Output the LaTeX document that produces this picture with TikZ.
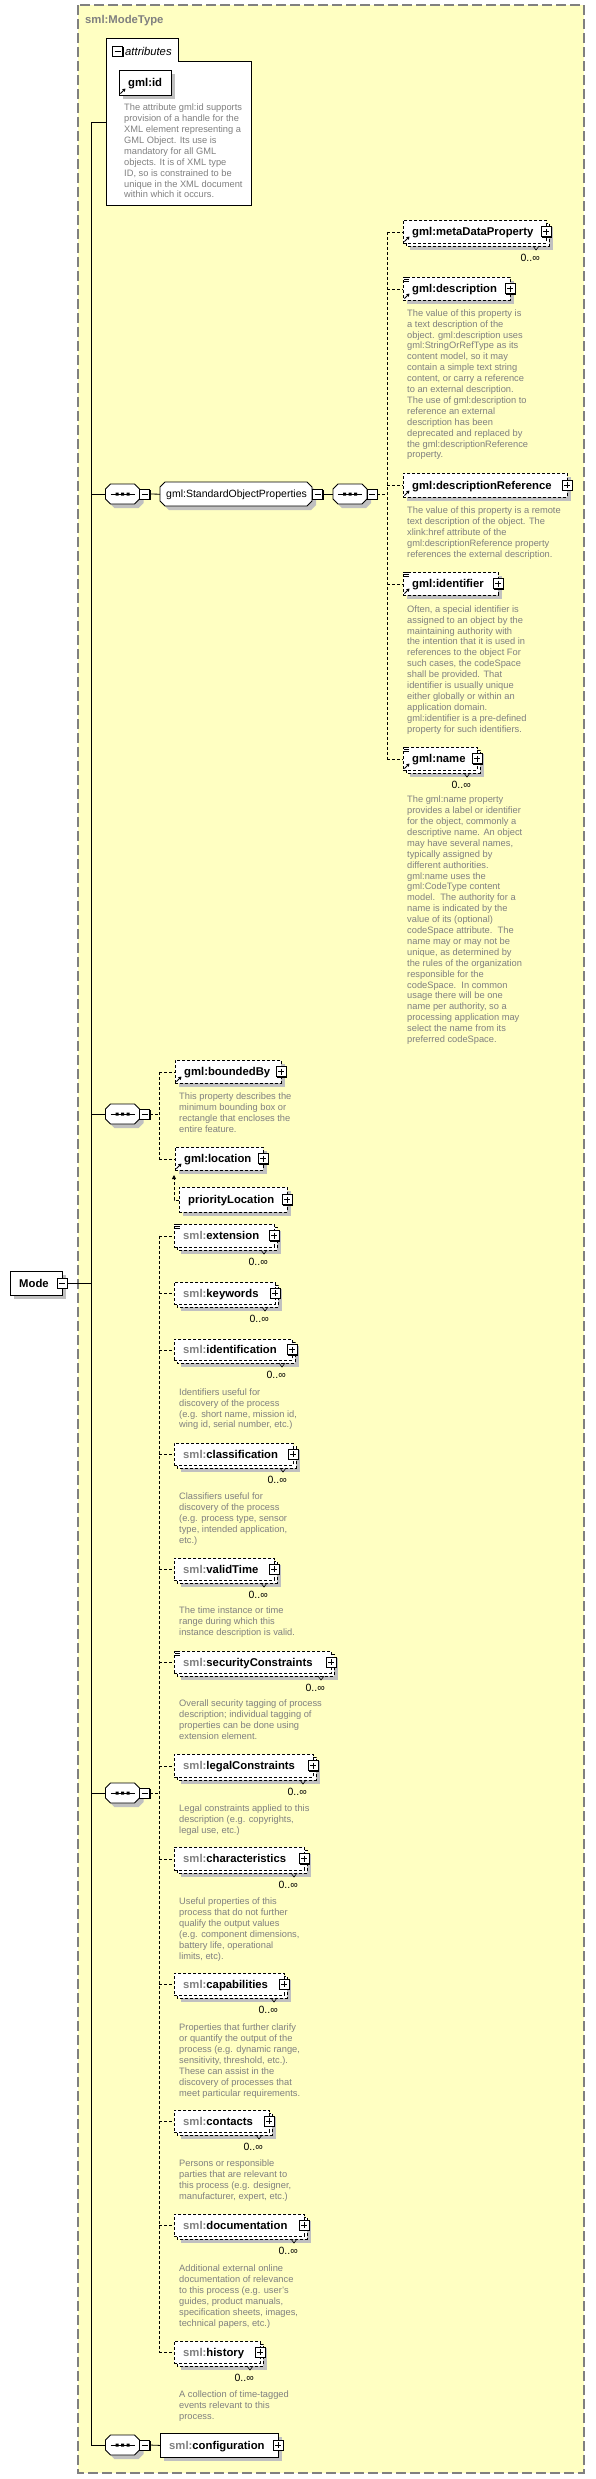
\documentclass[tikz,border=0pt]{standalone}
\usepackage{fontspec}
\setmainfont{Liberation Sans}
\usetikzlibrary{arrows.meta}
\definecolor{bgyellow}{RGB}{255,255,194}
\definecolor{txtgray}{RGB}{128,128,128}
\definecolor{shgray}{RGB}{192,192,192}
\definecolor{framegray}{RGB}{128,128,128}
\newcommand\labfont{\fontsize{11.3}{13}\selectfont\bfseries}
\newcommand\descfont{\fontsize{9.3}{10.9}\selectfont}
\newcommand\multfont{\fontsize{10.5}{12}\selectfont}
\newcommand\smlpre{{\color{txtgray}sml:}}
\tikzset{
  elbox/.style={draw=black, fill=white, line width=0.8pt, inner sep=0pt, rectangle},
  dsh/.style={dash pattern=on 3pt off 2pt},
  sld/.style={solid},
  ln/.style={draw=black, line width=0.8pt},
  dln/.style={draw=black, line width=0.8pt, dash pattern=on 3pt off 2pt},
  lbl/.style={font=\labfont, text=black, inner sep=0pt, anchor=base west},
  desc/.style={font=\descfont, text=txtgray, align=left, inner sep=0pt, anchor=north west},
  mult/.style={font=\multfont, text=black, inner sep=0pt, anchor=base east},
  pmbox/.style={draw=black, fill=white, line width=0.8pt, minimum size=10pt, inner sep=0pt, rectangle},
  hold/.style={draw=none, inner sep=0pt, rectangle},
}
\newcommand\iconplus[3]{%
  \fill[black] ({#2-4.4},{#3-4.4}) rectangle ({#2+6.4},{#3+6.4});
  \node[pmbox] (#1) at ({#2},{#3}) {};
  \draw[line width=0.9pt] ({#2-3},{#3}) -- ({#2+3},{#3}) ({#2},{#3-3}) -- ({#2},{#3+3});
}
\newcommand\iconminus[3]{%
  \fill[black] ({#2-4.4},{#3-4.4}) rectangle ({#2+6.4},{#3+6.4});
  \node[pmbox] (#1) at ({#2},{#3}) {};
  \draw[line width=0.9pt] ({#2-3},{#3}) -- ({#2+3},{#3});
}
\newcommand\iconnone[3]{}
\newcommand\elemS[8]{%
  \fill[shgray] ({#2+4},{#3+4}) rectangle ({#4+4},{#5+4});
  \node[elbox,#6,minimum width={#4-#2},minimum height={#5-#3},anchor=north west] (#1) at (#2,#3) {};
  \node[lbl] at ({#2+9},{(#3+#5)/2+4}) {#7};
  \csname icon#8\endcsname{#1-pm}{#4}{(#3+#5)/2}%
}
\newcommand\elemM[8]{%
  \fill[shgray] ({#2+7},{#3+7}) rectangle ({#4+4},{#5+4});
  \draw[elbox,#6] ({#2+3},{#3+3}) rectangle (#4,#5);
  \node[elbox,#6,minimum width={#4-#2-3},minimum height={#5-#3-3},anchor=north west] (#1) at (#2,#3) {};
  \node[lbl] at ({#2+9},{(#3+#5-3)/2+4}) {#7};
  \draw[line width=0.6pt] ({#4-16},{#5}) -- ({#4-13},{#5+4}) -- ({#4-10},{#5});
  \node[mult] at ({#4-9},{#5+15.5}) {0..∞};
  \csname icon#8\endcsname{#1-pm}{#4-3}{(#3+#5-3)/2}%
}
\newcommand\docicon[2]{\draw[line width=0.7pt] ({#1+0.5},{#2+0.5}) -- ({#1+6},{#2+0.5}) ({#1+0.5},{#2+2.5}) -- ({#1+6},{#2+2.5}) ({#1+0.5},{#2+4.5}) -- ({#1+6},{#2+4.5});}
\newcommand\refarrow[2]{\draw[line width=0.9pt,-{Triangle[length=3pt,width=3.5pt]}] ({#1+1.5},{#2-1.5}) -- ({#1+6.5},{#2-6.5});}
\newcommand\octa[5]{({#1+#5},{#2}) -- ({#3-#5},{#2}) -- ({#3},{#2+#5}) -- ({#3},{#4-#5}) -- ({#3-#5},{#4}) -- ({#1+#5},{#4}) -- ({#1},{#4-#5}) -- ({#1},{#2+#5}) -- cycle}
\newcommand\seqnode[3]{%
  \fill[shgray] \octa{#2+4}{#3-6}{#2+38}{#3+14}{5};
  \filldraw[fill=white,draw=black,line width=0.8pt] \octa{#2}{#3-10}{#2+34}{#3+10}{5};
  \draw[line width=0.9pt] ({#2+5},{#3}) -- ({#2+29},{#3});
  \fill ({#2+10},{#3-1.5}) rectangle ({#2+13},{#3+1.5}) ({#2+15.5},{#3-1.5}) rectangle ({#2+18.5},{#3+1.5}) ({#2+21},{#3-1.5}) rectangle ({#2+24},{#3+1.5});
  \node[hold,minimum width=34pt,minimum height=20pt,anchor=west] (#1) at (#2,#3) {};
  \iconminus{#1-mb}{#2+39}{#3}%
}
\newcommand\desctext[3]{\node[desc] at ({#1},{#2-7.6}) {\strut #3};}
\begin{document}
\begin{tikzpicture}[x=1pt,y=-1pt]
\useasboundingbox (0,0) rectangle (595,2479);
\fill[white] (0,0) rectangle (595,2479);
% frame
\draw[framegray, line width=1.2pt, dash pattern=on 10pt off 4pt, fill=bgyellow] (78,5) rectangle (584,2473);
\node[font=\labfont, text=txtgray, inner sep=0pt, anchor=base west] (title) at (85,23) {sml:ModeType};
% attributes
\filldraw[fill=white, draw=black, line width=0.8pt] (106,205) -- (106,38) -- (178,38) -- (178,61) -- (251,61) -- (251,205) -- cycle;
\node[hold, minimum width=145pt, minimum height=144pt, anchor=north west] (attrs) at (106,61) {};
\iconminus{attr-mb}{117.5}{51}
\node[font=\fontsize{11.3}{13}\selectfont\itshape, inner sep=0pt, anchor=base west] at (125,55) {attributes};
\elemS{gmlid}{119}{70}{171}{95}{sld}{gml:id}{none}
\refarrow{119}{95}
\desctext{124}{110.5}{The attribute gml:id supports\\provision of a handle for the\\XML element representing a\\GML Object. Its use is\\mandatory for all GML\\objects. It is of XML type\\ID, so is constrained to be\\unique in the XML document\\within which it occurs.}
% Mode
\elemS{mode}{10}{1271}{62}{1295}{sld}{Mode}{minus}
% sequence 1 and group
\seqnode{seqA}{105.5}{494}
\fill[shgray] \octa{164}{486}{316}{510}{5};
\filldraw[fill=white,draw=black,line width=0.8pt] \octa{160}{482}{312}{506}{5};
\node[hold, minimum width=152pt, minimum height=24pt, anchor=north west] (grp) at (160,482) {};
\node[font=\fontsize{10.5}{12}\selectfont, inner sep=0pt, anchor=base west] at (166,497.7) {gml:StandardObjectProperties};
\iconminus{grp-mb}{317.5}{494}
\seqnode{seqB}{333}{494}
% right column
\elemM{meta}{403}{220}{549}{246}{dsh}{gml:metaDataProperty}{plus}
\refarrow{403}{243}
\elemS{descr}{403}{277}{510}{300}{dsh}{gml:description}{plus}
\docicon{403}{277}\refarrow{403}{300}
\desctext{407}{316}{The value of this property is\\a text description of the\\object. gml:description uses\\gml:StringOrRefType as its\\content model, so it may\\contain a simple text string\\content, or carry a reference\\to an external description.\\The use of gml:description to\\reference an external\\description has been\\deprecated and replaced by\\the gml:descriptionReference\\property.}
\elemS{descref}{403}{473}{567}{497}{dsh}{gml:descriptionReference}{plus}
\refarrow{403}{497}
\desctext{407}{513.5}{The value of this property is a remote\\text description of the object. The\\xlink:href attribute of the\\gml:descriptionReference property\\references the external description.}
\elemS{ident}{403}{572}{498}{595}{dsh}{gml:identifier}{plus}
\docicon{403}{572}\refarrow{403}{595}
\desctext{407}{612}{Often, a special identifier is\\assigned to an object by the\\maintaining authority with\\the intention that it is used in\\references to the object For\\such cases, the codeSpace\\shall be provided. That\\identifier is usually unique\\either globally or within an\\application domain.\\gml:identifier is a pre-defined\\property for such identifiers.}
\elemM{gname}{403}{747}{480}{773}{dsh}{gml:name}{plus}
\docicon{403}{747}\refarrow{403}{770}
\desctext{407}{802.5}{The gml:name property\\provides a label or identifier\\for the object, commonly a\\descriptive name. An object\\may have several names,\\typically assigned by\\different authorities.\\gml:name uses the\\gml:CodeType content\\model.\ \ The authority for a\\name is indicated by the\\value of its (optional)\\codeSpace attribute.\ \ The\\name may or may not be\\unique, as determined by\\the rules of the organization\\responsible for the\\codeSpace.\ \ In common\\usage there will be one\\name per authority, so a\\processing application may\\select the name from its\\preferred codeSpace.}
% sequence B (boundedBy/location)
\seqnode{seqC}{105.5}{1114}
\elemS{bby}{175}{1060}{281}{1083}{dsh}{gml:boundedBy}{plus}
\refarrow{175}{1083}
\desctext{179}{1099.5}{This property describes the\\minimum bounding box or\\rectangle that encloses the\\entire feature.}
\elemS{loc}{175}{1147}{263}{1170}{dsh}{gml:location}{plus}
\refarrow{175}{1170}
\elemS{prio}{179}{1187}{287}{1212}{dsh}{priorityLocation}{plus}
% sequence D
\seqnode{seqD}{105.5}{1793}
\elemM{ext}{174}{1224}{277}{1250}{dsh}{\smlpre extension}{plus}
\docicon{174}{1224}
\elemM{kw}{174}{1282}{278}{1307}{dsh}{\smlpre keywords}{plus}
\elemM{idf}{174}{1339}{295}{1363}{dsh}{\smlpre identification}{plus}
\desctext{179}{1395}{Identifiers useful for\\discovery of the process\\(e.g. short name, mission id,\\wing id, serial number, etc.)}
\elemM{cls}{174}{1443}{296}{1468}{dsh}{\smlpre classification}{plus}
\desctext{179}{1499.5}{Classifiers useful for\\discovery of the process\\(e.g. process type, sensor\\type, intended application,\\etc.)}
\elemM{vt}{174}{1558}{277}{1583}{dsh}{\smlpre validTime}{plus}
\desctext{179}{1613.5}{The time instance or time\\range during which this\\instance description is valid.}
\elemM{sec}{174}{1651}{334}{1676}{dsh}{\smlpre securityConstraints}{plus}
\docicon{174}{1651}
\desctext{179}{1706.5}{Overall security tagging of process\\description; individual tagging of\\properties can be done using\\extension element.}
\elemM{leg}{174}{1754}{316}{1780}{dsh}{\smlpre legalConstraints}{plus}
\desctext{179}{1811.5}{Legal constraints applied to this\\description (e.g. copyrights,\\legal use, etc.)}
\elemM{chr}{174}{1847}{307}{1873}{dsh}{\smlpre characteristics}{plus}
\desctext{179}{1904.5}{Useful properties of this\\process that do not further\\qualify the output values\\(e.g. component dimensions,\\battery life, operational\\limits, etc).}
\elemM{cap}{174}{1973}{287}{1998}{dsh}{\smlpre capabilities}{plus}
\desctext{179}{2030.5}{Properties that further clarify\\or quantify the output of the\\process (e.g. dynamic range,\\sensitivity, threshold, etc.).\\These can assist in the\\discovery of processes that\\meet particular requirements.}
\elemM{con}{174}{2110}{272}{2135}{dsh}{\smlpre contacts}{plus}
\desctext{179}{2166.5}{Persons or responsible\\parties that are relevant to\\this process (e.g. designer,\\manufacturer, expert, etc.)}
\elemM{doc}{174}{2214}{307}{2239}{dsh}{\smlpre documentation}{plus}
\desctext{179}{2271.5}{Additional external online\\documentation of relevance\\to this process (e.g. user's\\guides, product manuals,\\specification sheets, images,\\technical papers, etc.)}
\elemM{his}{174}{2341}{263}{2366}{dsh}{\smlpre history}{plus}
\desctext{179}{2397.5}{A collection of time-tagged\\events relevant to this\\process.}
% sequence E
\seqnode{seqE}{105.5}{2445}
\elemS{config}{160}{2433}{278}{2457}{sld}{\smlpre configuration}{plus}
% connectors
\coordinate (sp) at (91,122);
\coordinate (rs) at (387,494);
\coordinate (ms) at (159,1114);
\draw[ln] (sp) -- (sp -| attrs.west);
\draw[ln] (sp) -- (sp |- seqE.west) -- (seqE.west);
\draw[ln] (mode-pm.east) -- (mode-pm.east -| sp);
\draw[ln] (seqA.west -| sp) -- (seqA.west);
\draw[ln] (seqC.west -| sp) -- (seqC.west);
\draw[ln] (seqD.west -| sp) -- (seqD.west);
\draw[ln] (seqA-mb.east) -- (grp.west);
\draw[ln] (grp-mb.east) -- (seqB.west);
\draw[ln] (seqE-mb.east) -- (config.west);
\draw[dln] (seqB-mb.east) -- (seqB-mb.east -| rs);
\draw[dln] (meta.west -| rs) -- (gname.west -| rs);
\foreach \n in {meta,descr,descref,ident,gname} \draw[dln] (\n.west -| rs) -- (\n.west);
\draw[dln] (seqC-mb.east) -- (seqC-mb.east -| ms);
\draw[dln] (bby.west -| ms) -- (loc.west -| ms);
\foreach \n in {bby,loc} \draw[dln] (\n.west -| ms) -- (\n.west);
\draw[dln] (seqD-mb.east) -- (seqD-mb.east -| ms);
\draw[dln] (ext.west -| ms) -- (his.west -| ms);
\foreach \n in {ext,kw,idf,cls,vt,sec,leg,chr,cap,con,doc,his} \draw[dln] (\n.west -| ms) -- (\n.west);
\coordinate (subst) at (174,1175);
\draw[dln, -{Triangle[length=4pt,width=4pt]}] (prio.west) -| (subst);
\end{tikzpicture}
\end{document}
